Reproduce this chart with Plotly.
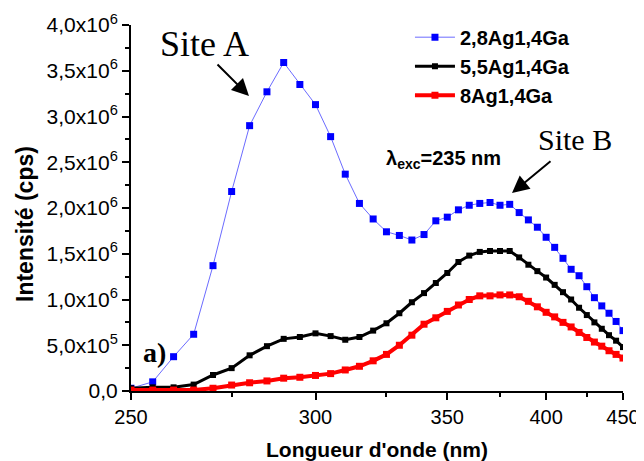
import plotly.graph_objects as go

# ---------------- data ----------------
wavelength_nm = [250, 255, 260, 265, 270, 275, 280, 285, 290, 295, 300, 305, 310, 315, 320,
                 325, 330, 335, 340, 345, 350, 355, 360, 365, 370, 375, 380, 385, 390, 395,
                 400, 405, 410, 415, 420, 425, 430, 435, 440, 445, 450]

blue_28Ag = [0.03e6, 0.10e6, 0.375e6, 0.62e6, 1.37e6, 2.18e6, 2.90e6, 3.27e6, 3.59e6, 3.35e6,
             3.13e6, 2.78e6, 2.37e6, 2.05e6, 1.88e6, 1.74e6, 1.70e6, 1.65e6, 1.71e6, 1.86e6,
             1.90e6, 1.98e6, 2.03e6, 2.05e6, 2.06e6, 2.03e6, 2.04e6, 1.95e6, 1.87e6, 1.79e6,
             1.68e6, 1.57e6, 1.45e6, 1.33e6, 1.26e6, 1.14e6, 1.02e6, 0.93e6, 0.85e6, 0.76e6,
             0.66e6]

black_55Ag = [0.03e6, 0.04e6, 0.04e6, 0.07e6, 0.175e6, 0.25e6, 0.39e6, 0.49e6, 0.57e6, 0.59e6,
              0.63e6, 0.60e6, 0.56e6, 0.59e6, 0.66e6, 0.74e6, 0.85e6, 0.97e6, 1.07e6, 1.18e6,
              1.29e6, 1.41e6, 1.48e6, 1.52e6, 1.53e6, 1.53e6, 1.53e6, 1.46e6, 1.38e6, 1.31e6,
              1.24e6, 1.16e6, 1.08e6, 1.00e6, 0.91e6, 0.83e6, 0.75e6, 0.68e6, 0.61e6, 0.55e6,
              0.48e6]

red_8Ag = [0.01e6, 0.01e6, 0.01e6, 0.01e6, 0.03e6, 0.065e6, 0.09e6, 0.11e6, 0.14e6, 0.15e6,
           0.17e6, 0.19e6, 0.23e6, 0.27e6, 0.33e6, 0.40e6, 0.50e6, 0.61e6, 0.73e6, 0.80e6,
           0.87e6, 0.94e6, 1.00e6, 1.04e6, 1.04e6, 1.05e6, 1.05e6, 1.03e6, 0.98e6, 0.92e6,
           0.86e6, 0.81e6, 0.75e6, 0.70e6, 0.64e6, 0.585e6, 0.535e6, 0.49e6, 0.44e6, 0.40e6,
           0.36e6]

series_names = ["2,8Ag1,4Ga", "5,5Ag1,4Ga", "8Ag1,4Ga"]

x_major_nm = [250, 300, 350, 400, 450]
x_minor_nm = [275, 325, 375, 425]
y_tick_vals = [0, 5e5, 1e6, 1.5e6, 2e6, 2.5e6, 3e6, 3.5e6, 4e6]
y_tick_text = ["0,0", "5,0x10<sup>5</sup>", "1,0x10<sup>6</sup>", "1,5x10<sup>6</sup>",
               "2,0x10<sup>6</sup>", "2,5x10<sup>6</sup>", "3,0x10<sup>6</sup>",
               "3,5x10<sup>6</sup>", "4,0x10<sup>6</sup>"]


# the original axis is linear in energy (1/lambda) but labelled in nm
def to_energy(nm_list):
    return [1e7 / v for v in nm_list]


x_vals = to_energy(wavelength_nm)

SANS = "Liberation Sans, Arial, sans-serif"
SERIF = "Liberation Serif, Times New Roman, serif"

# the page body adds an 8px margin, so the figure is made 8px smaller
PAGE_OFFSET = 8

fig = go.Figure()
fig.add_trace(go.Scatter(
    x=x_vals, y=blue_28Ag, name="<b>" + series_names[0] + "</b>", mode="lines+markers",
    line=dict(color="#6b6bff", width=1),
    marker=dict(symbol="square", size=7, color="#0000ff")))
fig.add_trace(go.Scatter(
    x=x_vals, y=black_55Ag, name="<b>" + series_names[1] + "</b>", mode="lines+markers",
    line=dict(color="#000000", width=3),
    marker=dict(symbol="square", size=6, color="#000000")))
fig.add_trace(go.Scatter(
    x=x_vals, y=red_8Ag, name="<b>" + series_names[2] + "</b>", mode="lines+markers",
    line=dict(color="#ff0000", width=4),
    marker=dict(symbol="square", size=7, color="#ff0000")))

fig.update_layout(
    width=644 - PAGE_OFFSET, height=461 - PAGE_OFFSET,
    margin=dict(l=131 - PAGE_OFFSET, r=21, t=25 - PAGE_OFFSET, b=70, autoexpand=False),
    paper_bgcolor="white", plot_bgcolor="white",
    font=dict(family=SANS, color="black", size=18),
    showlegend=True,
    legend=dict(x=0.567, y=1.02, xanchor="left", yanchor="top",
                bgcolor="rgba(0,0,0,0)", font=dict(size=20, family=SANS),
                itemwidth=40, tracegroupgap=0),
)

fig.update_xaxes(
    range=[1e7 / 250, 1e7 / 450], automargin=False,
    tickmode="array", tickvals=to_energy(x_major_nm), ticktext=[str(v) for v in x_major_nm],
    showline=True, linecolor="black", linewidth=2, mirror=False,
    ticks="outside", ticklen=7, tickwidth=2, tickcolor="black",
    minor=dict(tickmode="array", tickvals=to_energy(x_minor_nm), ticks="outside",
               ticklen=4, tickwidth=2, tickcolor="black", showgrid=False),
    showgrid=False, zeroline=False,
    tickfont=dict(size=20, family=SANS),
    title=dict(text="<b>Longueur d'onde (nm)</b>", font=dict(size=21, family=SANS), standoff=15),
)

fig.update_yaxes(
    range=[0, 4e6], automargin=False,
    tickmode="array", tickvals=y_tick_vals, ticktext=y_tick_text,
    showline=True, linecolor="black", linewidth=2, mirror=False,
    ticks="outside", ticklen=7, tickwidth=2, tickcolor="black",
    minor=dict(dtick=2.5e5, ticks="outside", ticklen=4, tickwidth=2, tickcolor="black",
               showgrid=False),
    showgrid=False, zeroline=False,
    tickfont=dict(size=21, family=SANS),
)


def px_x(p):
    return (p - 131) / 492.0


def px_y(p):
    return (391 - p) / 366.0


annotations = [
    dict(text="<b>Intensité (cps)</b>", x=px_x(25), y=px_y(224), xref="paper", yref="paper",
         xanchor="center", yanchor="middle", textangle=-90, showarrow=False,
         font=dict(family=SANS, size=23, color="black")),
    dict(text="Site A", x=px_x(204), y=px_y(44), xref="paper", yref="paper",
         xanchor="center", yanchor="middle",
         showarrow=False, font=dict(family=SERIF, size=36, color="black")),
    dict(text="", x=px_x(249), y=px_y(96), xref="paper", yref="paper",
         showarrow=True, ax=-33, ay=-33, arrowhead=2, arrowsize=1.7, arrowwidth=2,
         arrowcolor="black"),
    dict(text="Site B", x=px_x(575), y=px_y(139), xref="paper", yref="paper",
         xanchor="center", yanchor="middle",
         showarrow=False, font=dict(family=SERIF, size=30, color="black")),
    dict(text="", x=px_x(512), y=px_y(193), xref="paper", yref="paper",
         showarrow=True, ax=40, ay=-33, arrowhead=2, arrowsize=1.7, arrowwidth=2,
         arrowcolor="black"),
    dict(text="<b>λ<sub>exc</sub>=235 nm</b>", x=px_x(384), y=px_y(159), xref="paper",
         yref="paper", xanchor="left", yanchor="middle", showarrow=False,
         font=dict(family=SANS, size=20, color="black")),
    dict(text="<b>a)</b>", x=px_x(154), y=px_y(352), xref="paper", yref="paper",
         xanchor="center", yanchor="middle",
         showarrow=False, font=dict(family=SERIF, size=28, color="black")),
]
fig.update_layout(annotations=annotations)

fig.write_html("out.html")
